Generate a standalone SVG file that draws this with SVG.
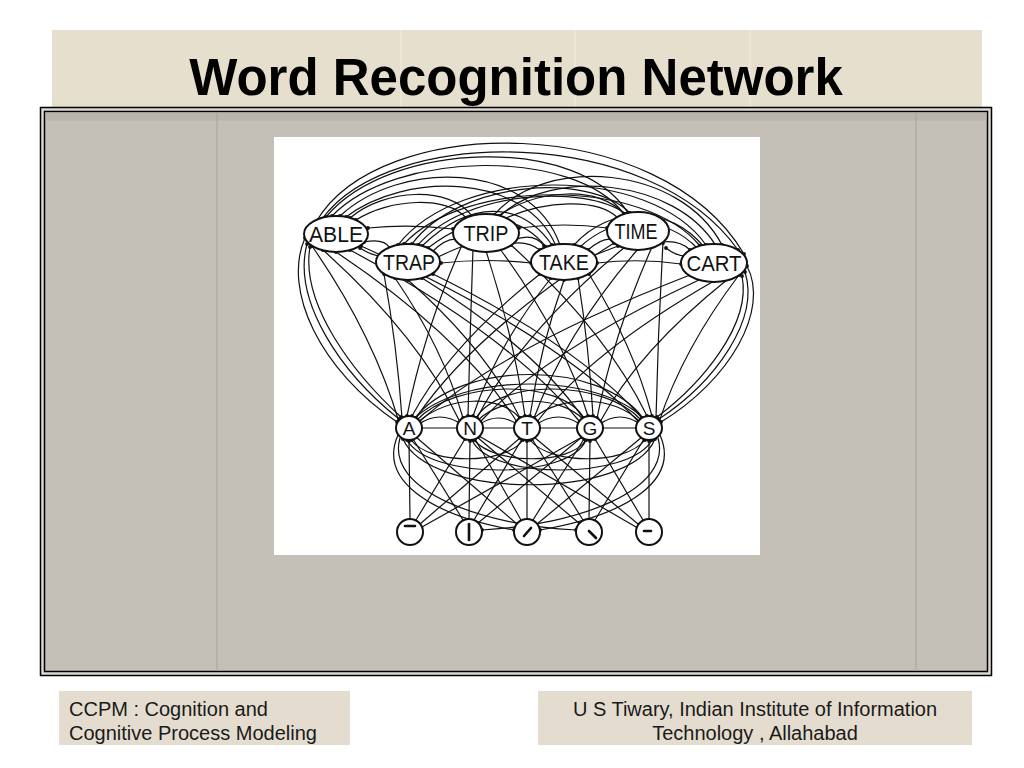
<svg xmlns="http://www.w3.org/2000/svg" width="1024" height="768" viewBox="0 0 1024 768">
<defs>
<style>
.c{fill:none;stroke:#111;stroke-width:1.2}
.b{marker-start:url(#d);marker-end:url(#d)}
.e{marker-end:url(#d)}
.node{fill:#fff;stroke:#111;stroke-width:2}
.wl{font-family:"Liberation Sans",Arial,sans-serif;font-size:22px;fill:#111;text-anchor:middle}
.ll{font-family:"Liberation Sans",Arial,sans-serif;font-size:19px;fill:#111;text-anchor:middle}
.ft{font-family:"Liberation Sans",Arial,sans-serif;font-size:20px;fill:#1a1a1a}
.g{stroke:#111;stroke-width:2.6;stroke-linecap:round}
</style>
<marker id="d" viewBox="-2 -2 4 4" markerWidth="4" markerHeight="4" markerUnits="userSpaceOnUse"><circle r="1.9" fill="#111"/></marker>
</defs>
<rect width="1024" height="768" fill="#ffffff"/>
<!-- title band -->
<rect x="52" y="30" width="930" height="90" fill="#e7dfcd"/>
<g stroke="#f1ece1" stroke-width="1"><line x1="401" y1="30" x2="401" y2="108"/><line x1="575" y1="30" x2="575" y2="108"/><line x1="750" y1="30" x2="750" y2="108"/></g>
<text x="516" y="95" font-family="Liberation Sans,Arial,sans-serif" font-size="51" font-weight="bold" text-anchor="middle" fill="#000">Word Recognition Network</text>
<!-- panel -->
<rect x="40.5" y="107.5" width="951" height="568" fill="#dcd9d2" stroke="#000" stroke-width="1.5"/>
<rect x="44.5" y="111.5" width="943" height="560" fill="#c4c0b7" stroke="#000" stroke-width="1.5"/>
<rect x="45.5" y="112.5" width="941" height="8" fill="#b6b1a6" opacity="0.8"/>
<g stroke="#a6a299" stroke-width="1"><line x1="217" y1="113" x2="217" y2="671"/><line x1="916" y1="113" x2="916" y2="671"/></g>
<!-- figure -->
<rect x="274" y="137" width="486" height="418" fill="#ffffff"/>
<g id="connectors" class="c">
<!-- word-word arcs -->
<path class="b" d="M316,222 C380,112 660,112 744,254"/>
<path class="b" d="M322,219 C390,125 650,125 738,250"/>
<path class="b" d="M326,217 C390,140 580,135 628,213"/>
<path class="b" d="M332,216 C395,150 575,148 624,214"/>
<path class="b" d="M340,216 C400,160 530,160 560,245"/>
<path class="b" d="M346,217 C405,172 525,172 556,246"/>
<path class="b" d="M350,218 C385,188 450,186 472,216"/>
<path class="b" d="M356,220 C390,198 448,196 466,218"/>
<path class="b" d="M364,242 Q384,238 390,248"/>
<path class="b" d="M360,248 Q372,256 382,256"/>
<path class="b" d="M398,245 C460,165 650,165 706,245"/>
<path class="b" d="M404,244 C465,178 645,178 700,246"/>
<path class="b" d="M412,244 C460,180 590,172 630,213"/>
<path class="b" d="M418,245 C465,190 585,184 626,214"/>
<path class="b" d="M422,246 C470,200 520,200 552,245"/>
<path class="b" d="M428,248 C475,212 518,212 546,247"/>
<path class="b" d="M432,252 Q448,236 460,240"/>
<path class="b" d="M436,258 Q452,250 464,246"/>
<path class="b" d="M494,215 C545,155 680,165 722,245"/>
<path class="b" d="M500,216 C550,168 675,178 716,246"/>
<path class="b" d="M498,216 C540,188 600,186 624,214"/>
<path class="b" d="M504,219 C545,200 598,198 618,218"/>
<path class="b" d="M510,244 Q526,240 540,250"/>
<path class="b" d="M514,240 Q534,232 544,246"/>
<path class="b" d="M574,245 C610,205 670,205 704,247"/>
<path class="b" d="M580,247 C614,215 666,215 698,249"/>
<path class="b" d="M588,250 Q604,236 614,240"/>
<path class="b" d="M592,256 Q608,250 618,246"/>
<path class="b" d="M662,242 Q680,240 690,250"/>
<path class="b" d="M666,248 Q676,256 686,256"/>
<path class="b" d="M368,228 Q410,224 453,229"/>
<path class="b" d="M519,228 Q565,222 607,228"/>
<path class="b" d="M441,263 Q486,258 531,263"/>
<path class="b" d="M597,263 Q640,258 681,264"/>
<!-- letter-word connections -->
<path class="b" d="M399,422 Q373,334 312,246"/>
<path class="b" d="M402,418 Q397,346 384,274"/>
<path class="b" d="M407,416 Q424,331 462,245"/>
<path class="b" d="M412,416 Q450,345 540,274"/>
<path class="b" d="M416,418 Q475,331 614,243"/>
<path class="b" d="M419,422 Q500,349 690,275"/>
<path class="b" d="M460,422 Q419,336 323,250"/>
<path class="b" d="M463,418 Q443,348 395,278"/>
<path class="b" d="M468,416 Q470,333 473,249"/>
<path class="b" d="M473,416 Q496,347 551,278"/>
<path class="b" d="M477,418 Q521,333 625,247"/>
<path class="b" d="M480,422 Q546,351 701,279"/>
<path class="b" d="M517,422 Q463,337 336,252"/>
<path class="b" d="M520,418 Q486,349 408,280"/>
<path class="b" d="M525,416 Q513,334 486,251"/>
<path class="b" d="M530,416 Q540,348 564,280"/>
<path class="b" d="M534,418 Q565,334 638,249"/>
<path class="b" d="M537,422 Q590,352 714,281"/>
<path class="b" d="M580,422 Q511,336 350,250"/>
<path class="b" d="M583,418 Q535,348 422,278"/>
<path class="b" d="M588,416 Q562,333 500,249"/>
<path class="b" d="M593,416 Q589,347 578,278"/>
<path class="b" d="M597,418 Q614,333 652,247"/>
<path class="b" d="M600,422 Q638,351 728,279"/>
<path class="b" d="M639,422 Q556,334 361,246"/>
<path class="b" d="M642,418 Q579,346 433,274"/>
<path class="b" d="M647,416 Q606,331 511,245"/>
<path class="b" d="M652,416 Q633,345 589,274"/>
<path class="b" d="M656,418 Q658,331 663,243"/>
<path class="b" d="M659,422 Q683,349 739,275"/>
<!-- outer side curves -->
<path class="b" d="M305,238 C282,290 320,370 397,422"/>
<path class="b" d="M307,244 C292,300 340,372 399,419"/>
<path class="b" d="M310,247 C300,305 355,375 401,417"/>
<path class="b" d="M747,266 C770,310 730,380 661,422"/>
<path class="b" d="M745,272 C760,320 715,382 659,419"/>
<path class="b" d="M742,276 C752,325 700,385 657,417"/>
<!-- letter-letter -->
<path class="b" d="M421,428 L458,428"/>
<path class="b" d="M482,428 L515,428"/>
<path class="b" d="M539,428 L578,428"/>
<path class="b" d="M602,428 L637,428"/>
<path class="b" d="M415,418 C460,360 600,360 643,418"/>
<path class="b" d="M413,420 C460,372 600,372 645,420"/>
<path class="b" d="M417,420 C455,380 560,378 584,418"/>
<path class="b" d="M476,418 C500,378 605,380 641,420"/>
<path class="b" d="M418,422 C450,395 500,395 520,418"/>
<path class="b" d="M478,420 C505,395 560,395 584,420"/>
<path class="b" d="M534,418 C560,395 615,395 640,422"/>
<path class="b" d="M419,424 Q440,410 461,424"/>
<path class="b" d="M480,424 Q498,412 517,424"/>
<path class="b" d="M537,424 Q558,410 580,424"/>
<path class="b" d="M600,424 Q620,410 640,424"/>
<path class="b" d="M403,439 C430,500 630,500 655,439"/>
<path class="b" d="M407,440 C430,480 570,480 586,440"/>
<path class="b" d="M472,440 C490,480 630,480 652,440"/>
<path class="b" d="M411,440 C430,465 505,465 523,440"/>
<path class="b" d="M474,440 C495,465 570,465 586,440"/>
<path class="b" d="M530,440 C550,465 625,465 645,440"/>
<!-- feature-letter -->
<path class="e" d="M410,519 L409,441"/>
<path class="e" d="M469,519 L470,441"/>
<path class="e" d="M527,519 L527,441"/>
<path class="e" d="M589,519 L590,441"/>
<path class="e" d="M649,519 L649,441"/>
<path class="e" d="M416,520 L465,439"/>
<path class="e" d="M420,524 L520,438"/>
<path class="e" d="M422,527 L582,437"/>
<path class="e" d="M463,520 L413,439"/>
<path class="e" d="M474,520 L522,439"/>
<path class="e" d="M478,523 L582,437"/>
<path class="e" d="M521,520 L475,439"/>
<path class="e" d="M533,520 L584,439"/>
<path class="e" d="M517,524 L416,437"/>
<path class="e" d="M537,524 L642,437"/>
<path class="e" d="M583,520 L532,439"/>
<path class="e" d="M595,520 L644,439"/>
<path class="e" d="M580,524 L477,437"/>
<path class="e" d="M643,520 L595,439"/>
<path class="e" d="M638,524 L534,437"/>
<path class="e" d="M636,527 L479,436"/>
<path class="e" d="M398,435 C378,480 430,515 514,530"/>
<path class="e" d="M400,438 C385,490 480,525 576,530"/>
<path class="e" d="M660,435 C680,480 628,515 540,530"/>
<path class="e" d="M658,438 C673,490 578,525 482,530"/>
</g>
<!-- word nodes -->
<g id="word-able"><ellipse class="node" cx="336" cy="234" rx="32" ry="18"/><text class="wl" x="336" y="242" textLength="54" lengthAdjust="spacingAndGlyphs">ABLE</text></g>
<g id="word-trap"><ellipse class="node" cx="408" cy="262" rx="32" ry="18"/><text class="wl" x="409" y="270" textLength="52" lengthAdjust="spacingAndGlyphs">TRAP</text></g>
<g id="word-trip"><ellipse class="node" cx="486" cy="233" rx="33" ry="19"/><text class="wl" x="486" y="241" textLength="45" lengthAdjust="spacingAndGlyphs">TRIP</text></g>
<g id="word-take"><ellipse class="node" cx="564" cy="262" rx="33" ry="18"/><text class="wl" x="564" y="270" textLength="50" lengthAdjust="spacingAndGlyphs">TAKE</text></g>
<g id="word-time"><ellipse class="node" cx="638" cy="231" rx="31" ry="19"/><text class="wl" x="636" y="239" textLength="43" lengthAdjust="spacingAndGlyphs">TIME</text></g>
<g id="word-cart"><ellipse class="node" cx="714" cy="263" rx="33" ry="19"/><text class="wl" x="714" y="271" textLength="55" lengthAdjust="spacingAndGlyphs">CART</text></g>
<!-- letter nodes -->
<g id="letter-a"><ellipse class="node" cx="409" cy="428" rx="13" ry="12"/><text class="ll" x="409" y="435">A</text></g>
<g id="letter-n"><ellipse class="node" cx="470" cy="428" rx="13" ry="12"/><text class="ll" x="470" y="435">N</text></g>
<g id="letter-t"><ellipse class="node" cx="527" cy="428" rx="13" ry="12"/><text class="ll" x="527" y="435">T</text></g>
<g id="letter-g"><ellipse class="node" cx="590" cy="428" rx="13" ry="12"/><text class="ll" x="590" y="435">G</text></g>
<g id="letter-s"><ellipse class="node" cx="649" cy="428" rx="13" ry="12"/><text class="ll" x="649" y="435">S</text></g>
<!-- feature nodes -->
<g id="feature-1"><circle class="node" cx="410" cy="532" r="13"/><line class="g" x1="405" y1="526" x2="415" y2="526"/></g>
<g id="feature-2"><circle class="node" cx="469" cy="532" r="13"/><line class="g" x1="469" y1="524" x2="469" y2="540"/></g>
<g id="feature-3"><circle class="node" cx="527" cy="532" r="13"/><line class="g" x1="524" y1="536" x2="531" y2="528"/></g>
<g id="feature-4"><circle class="node" cx="589" cy="532" r="13"/><line class="g" x1="589" y1="531" x2="596" y2="538"/></g>
<g id="feature-5"><circle class="node" cx="649" cy="532" r="13"/><line class="g" x1="644" y1="531" x2="651" y2="531"/></g>
<!-- footer -->
<rect x="59" y="691" width="291" height="54" fill="#e4ddcf"/>
<rect x="538" y="691" width="434" height="54" fill="#e4ddcf"/>
<text class="ft" x="69" y="716">CCPM : Cognition and</text>
<text class="ft" x="69" y="740">Cognitive Process Modeling</text>
<text class="ft" x="755" y="716" text-anchor="middle">U S Tiwary, Indian Institute of Information</text>
<text class="ft" x="755" y="740" text-anchor="middle">Technology , Allahabad</text>
</svg>
